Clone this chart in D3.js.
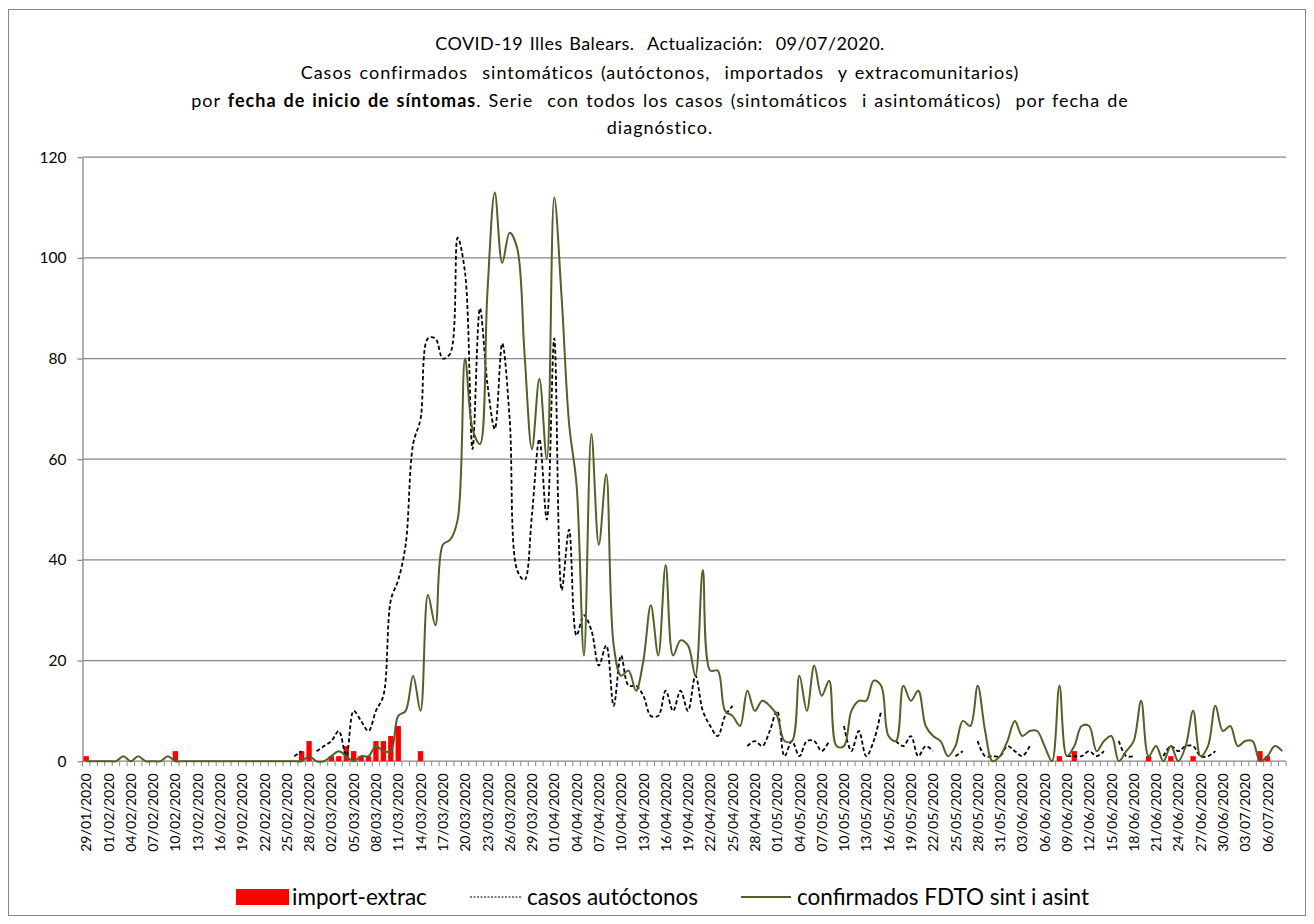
<!DOCTYPE html>
<html>
<head>
<meta charset="utf-8">
<script src="https://cdn.jsdelivr.net/npm/d3@7"></script>
<style>
  body { margin: 0; background: #fff; }
  svg { font-family: Lato, "Open Sans", sans-serif; }
  .title { white-space: pre; letter-spacing: 1px; word-spacing: 1.5px; }
  .title.first { letter-spacing: 0.45px; }
</style>
</head>
<body>
<svg id="chart" width="1314" height="924"></svg>
<script>
// categories: one per day, 29/01/2020 .. 08/07/2020
const START_DATE = new Date(2020, 0, 29);
const DAY_COUNT = 162;
const dates = d3.timeDay.range(START_DATE, d3.timeDay.offset(START_DATE, DAY_COUNT)).map(d3.timeFormat('%d/%m/%Y'));
const tickLabels = dates.filter((d, i) => i % 3 === 0);
const yTicks = [0, 20, 40, 60, 80, 100, 120];

// import-extrac (bars)
const importExtrac = [
  1, 0, 0, 0, 0, 0, 0, 0, 0, 0,
  0, 0, 2, 0, 0, 0, 0, 0, 0, 0,
  0, 0, 0, 0, 0, 0, 0, 0, 0, 2,
  4, 0, 0, 1, 1, 3, 2, 1, 1, 4,
  4, 5, 7, 0, 0, 2, 0, 0, 0, 0,
  0, 0, 0, 0, 0, 0, 0, 0, 0, 0,
  0, 0, 0, 0, 0, 0, 0, 0, 0, 0,
  0, 0, 0, 0, 0, 0, 0, 0, 0, 0,
  0, 0, 0, 0, 0, 0, 0, 0, 0, 0,
  0, 0, 0, 0, 0, 0, 0, 0, 0, 0,
  0, 0, 0, 0, 0, 0, 0, 0, 0, 0,
  0, 0, 0, 0, 0, 0, 0, 0, 0, 0,
  0, 0, 0, 0, 0, 0, 0, 0, 0, 0,
  0, 1, 0, 2, 0, 0, 0, 0, 0, 0,
  0, 0, 0, 1, 0, 0, 1, 0, 0, 1,
  0, 0, 0, 0, 0, 0, 0, 0, 2, 1,
  0, 0
];

// casos autóctonos (dashed), null = no value
const casosAutoctonos = [
  null, null, null, null, null, null, null, null, null, null,
  null, null, null, null, null, null, null, null, null, null,
  null, null, null, null, null, null, null, null, 1, 2,
  null, 2, 3, 4, 6, 1, 10, 8, 6, 10,
  13, 32, 36, 43, 63, 68, 84, 84, 80, 81,
  104, 97, 62, 90, 75, 66, 83, 68, 38, 36,
  49, 64, 48, 84, 34, 46, 25, 29, 26, 19,
  23, 11, 21, 15, 15, 13, 9, 9, 14, 10,
  14, 10, 17, 10, 7, 5, 9, 11, null, 3,
  4, 3, 6, 10, 1, 4, 1, 4, 4, 2,
  4, null, 7, 2, 6, 1, 4, 10, null, 4,
  3, 5, 1, 3, 2, null, null, 1, 2, null,
  4, 1, 1, 1, 3, 2, 1, 3, null, null,
  null, null, 1, 1, 1, 2, 1, 2, null, 4,
  1, 1, null, null, null, 1, 3, 2, 3, 3,
  1, 1, 2, null, null, null, null, null, null, null,
  null, null
];

// confirmados FDTO sint i asint (green line)
const confirmadosFDTO = [
  0, 0, 0, 0, 0, 1, 0, 1, 0, 0,
  0, 1, 0, 0, 0, 0, 0, 0, 0, 0,
  0, 0, 0, 0, 0, 0, 0, 0, 0, 0,
  1, 0, 0, 1, 2, 1, 0, 1, 1, 3,
  2, 2, 9, 10, 17, 10, 33, 27, 43, 44,
  48, 80, 66, 63, 93, 113, 99, 105, 102, 81,
  62, 76, 60, 112, 92, 67, 55, 21, 65, 43,
  57, 23, 17, 18, 14, 20, 31, 21, 39, 21,
  24, 23, 17, 38, 18, 18, 10, 9, 7, 14,
  10, 12, 11, 9, 4, 4, 17, 10, 19, 13,
  16, 3, 3, 10, 12, 12, 16, 15, 5, 4,
  15, 12, 14, 7, 5, 4, 1, 3, 8, 7,
  15, 6, 0, 1, 4, 8, 5, 6, 6, 3,
  0, 15, 1, 3, 7, 7, 2, 4, 5, 0,
  2, 4, 12, 1, 3, 0, 3, 0, 3, 10,
  1, 3, 11, 6, 7, 3, 4, 4, 0, 1,
  3, 2
];

const titleLines = [
  'COVID-19 Illes Balears.  Actualización:  09/07/2020.',
  'Casos confirmados  sintomáticos (autóctonos,  importados  y extracomunitarios)',
  null, // third line has a bold part, built below
  'diagnóstico.'
];
const legendLabels = ['import-extrac', 'casos autóctonos', 'confirmados FDTO sint i asint'];

const GREEN = '#4F6228';
const GRID = '#878787';

function drawChart() {
  let svg = d3.select('#chart');
  let plot = { left: 82.5, right: 1286, top: 157.2, bottom: 761.2 };

  svg.append('rect')
    .attr('x', 8.5).attr('y', 9.5)
    .attr('width', 1297).attr('height', 906)
    .attr('fill', '#fff').attr('stroke', GRID).attr('stroke-width', 1);

  drawTitle(svg);

  let x = d3.scaleBand().domain(dates).range([plot.left, plot.right]);
  let xBar = d3.scaleBand().domain(dates).range([plot.left, plot.right]).paddingInner(0.28).paddingOuter(0.14);
  let y = d3.scaleLinear().domain([0, 120]).range([plot.bottom, plot.top]);

  // gridlines
  svg.append('g').selectAll('line').data(yTicks).join('line')
    .attr('x1', plot.left).attr('x2', plot.right)
    .attr('y1', d => y(d)).attr('y2', d => y(d))
    .attr('stroke', GRID).attr('stroke-width', 1.3);

  // y axis
  let yAxis = svg.append('g')
    .attr('transform', `translate(${plot.left},0)`)
    .call(d3.axisLeft(y).tickValues(yTicks).tickSize(5).tickSizeOuter(0).tickPadding(11));
  yAxis.select('.domain').attr('stroke', GRID).attr('stroke-width', 1.3);
  yAxis.selectAll('.tick line').attr('stroke', GRID).attr('stroke-width', 1.3);
  yAxis.selectAll('text').attr('font-size', 15.5).attr('fill', '#000').attr('font-family', 'Lato, sans-serif');

  // x axis labels
  let xAxis = svg.append('g')
    .attr('transform', `translate(0,${plot.bottom})`)
    .call(d3.axisBottom(x).tickValues(tickLabels).tickSize(0));
  xAxis.select('.domain').remove();
  xAxis.selectAll('text')
    .attr('transform', 'rotate(-90)')
    .attr('x', -12).attr('y', 0).attr('dy', '0.36em')
    .attr('text-anchor', 'end')
    .attr('font-size', 14.2).attr('fill', '#000').attr('font-family', 'Lato, sans-serif');

  // category boundary ticks
  let boundaries = dates.map(d => x(d)).concat([plot.right]);
  svg.append('g').selectAll('line').data(boundaries).join('line')
    .attr('x1', d => d).attr('x2', d => d)
    .attr('y1', plot.bottom).attr('y2', plot.bottom + 5)
    .attr('stroke', GRID).attr('stroke-width', 1);

  // bars
  let barData = dates.map((d, i) => ({ date: d, value: importExtrac[i] })).filter(d => d.value > 0);
  svg.append('g').selectAll('rect').data(barData).join('rect')
    .attr('x', d => xBar(d.date))
    .attr('width', xBar.bandwidth())
    .attr('y', d => y(d.value))
    .attr('height', d => y(0) - y(d.value))
    .attr('fill', '#FF0000');

  let line = d3.line()
    .defined(d => d.value != null)
    .x(d => x(d.date) + x.bandwidth() / 2)
    .y(d => y(d.value))
    .curve(d3.curveCatmullRom.alpha(0.5));

  let autoData = dates.map((d, i) => ({ date: d, value: casosAutoctonos[i] }));
  svg.append('path').datum(autoData)
    .attr('d', line)
    .attr('fill', 'none').attr('stroke', '#000')
    .attr('stroke-width', 1.8).attr('stroke-dasharray', '4,2.5');

  let confData = dates.map((d, i) => ({ date: d, value: confirmadosFDTO[i] }));
  svg.append('path').datum(confData)
    .attr('d', line)
    .attr('fill', 'none').attr('stroke', GREEN)
    .attr('stroke-width', 2);

  drawLegend(svg);
}

function drawTitle(svg) {
  let cx = 660;
  let ys = [44, 73, 101, 128];
  let g = svg.append('g').attr('font-size', 18).attr('fill', '#000').attr('text-anchor', 'middle');
  titleLines.forEach((t, i) => {
    let txt = g.append('text').attr('class', i === 0 ? 'title first' : 'title')
      .attr('x', cx).attr('y', ys[i]).attr('dy', '0.35em');
    if (t != null) {
      txt.text(t);
      return;
    }
    txt.append('tspan').text('por ');
    txt.append('tspan').attr('font-weight', 'bold').text('fecha de inicio de síntomas');
    txt.append('tspan').text('. Serie  con todos los casos (sintomáticos  i asintomáticos)  por fecha de');
  });
}

function drawLegend(svg) {
  let ly = 897;
  let g = svg.append('g').attr('font-size', 22.5).attr('fill', '#000');
  g.append('rect').attr('x', 236).attr('y', ly - 8).attr('width', 53).attr('height', 16).attr('fill', '#FF0000');
  g.append('text').attr('x', 292).attr('y', ly).attr('dy', '0.35em').text(legendLabels[0]);
  g.append('line').attr('x1', 470).attr('x2', 522).attr('y1', ly).attr('y2', ly)
    .attr('stroke', '#000').attr('stroke-width', 1.2).attr('stroke-dasharray', '2,1.5');
  g.append('text').attr('x', 527).attr('y', ly).attr('dy', '0.35em').text(legendLabels[1]);
  g.append('line').attr('x1', 741).attr('x2', 791).attr('y1', ly).attr('y2', ly)
    .attr('stroke', GREEN).attr('stroke-width', 2);
  g.append('text').attr('x', 797).attr('y', ly).attr('dy', '0.35em').text(legendLabels[2]);
}

window.onload = drawChart;
</script>
</body>
</html>
